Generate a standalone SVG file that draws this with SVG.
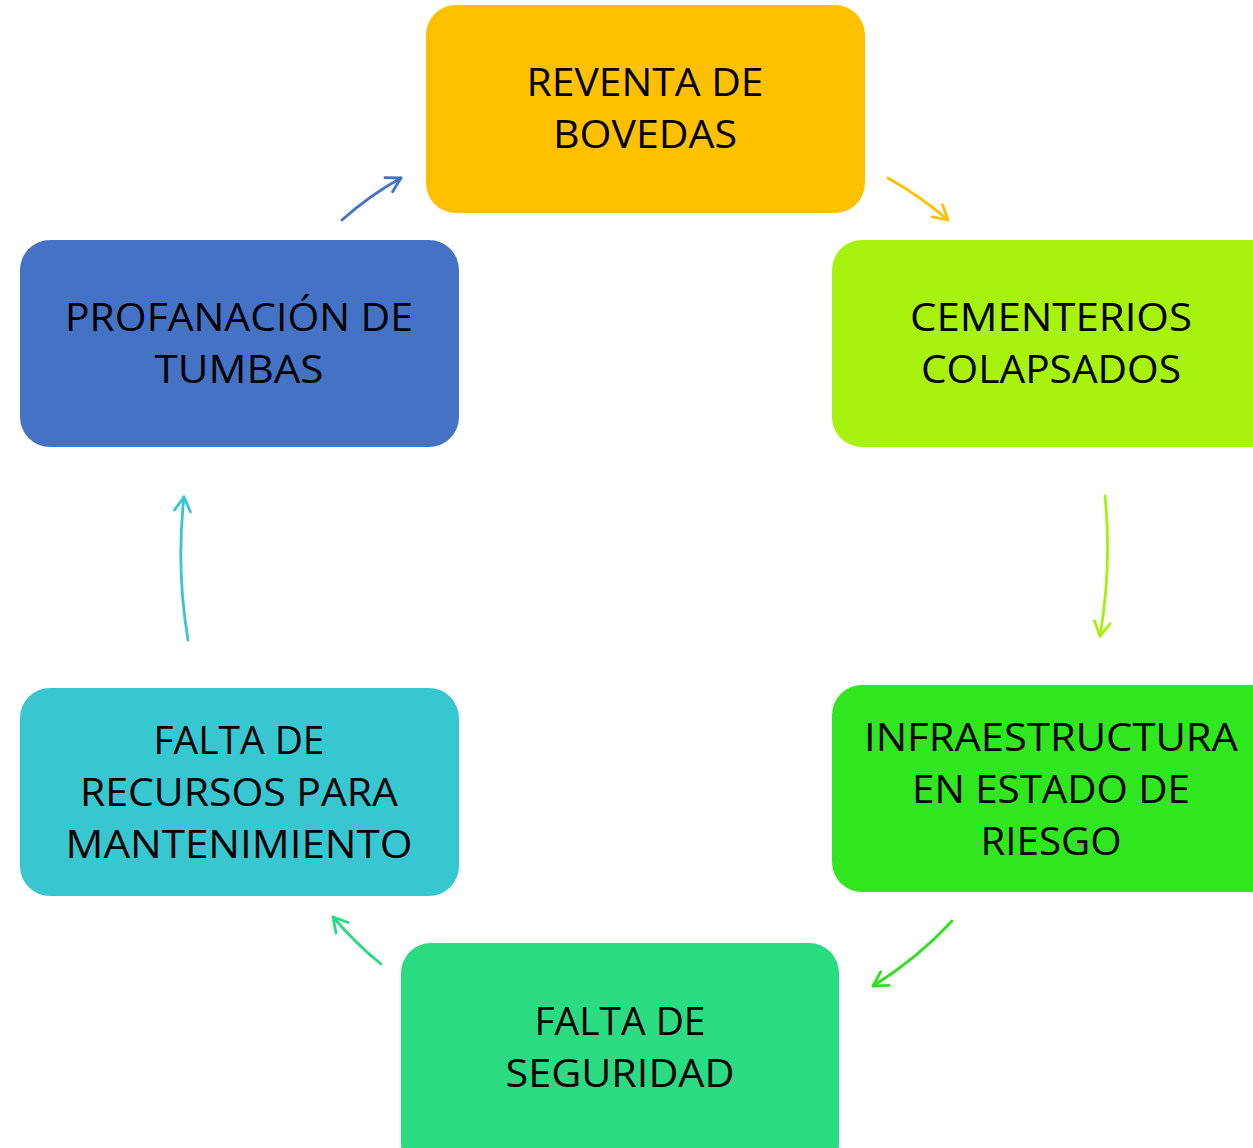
<svg xmlns="http://www.w3.org/2000/svg" width="1253" height="1148" viewBox="0 0 1253 1148">
<style>
.t{font-family:"Open Sans","Noto Sans","Liberation Sans",sans-serif;font-size:39px;fill:#000;text-anchor:middle}
.c{fill:none;stroke-width:2.8;stroke-linecap:round}
</style>
<defs>
<marker id="m1" markerUnits="userSpaceOnUse" markerWidth="30" markerHeight="30" viewBox="-20 -15 30 30" refX="0" refY="0" orient="auto"><path d="M-14,-8 L0,0 L-14,8" fill="none" stroke="#4472C4" stroke-width="2.8" stroke-linecap="round" stroke-linejoin="round"/></marker>
<marker id="m2" markerUnits="userSpaceOnUse" markerWidth="30" markerHeight="30" viewBox="-20 -15 30 30" refX="0" refY="0" orient="auto"><path d="M-14,-8 L0,0 L-14,8" fill="none" stroke="#FFC000" stroke-width="2.8" stroke-linecap="round" stroke-linejoin="round"/></marker>
<marker id="m3" markerUnits="userSpaceOnUse" markerWidth="30" markerHeight="30" viewBox="-20 -15 30 30" refX="0" refY="0" orient="auto"><path d="M-14,-8 L0,0 L-14,8" fill="none" stroke="#A5F20F" stroke-width="2.8" stroke-linecap="round" stroke-linejoin="round"/></marker>
<marker id="m4" markerUnits="userSpaceOnUse" markerWidth="30" markerHeight="30" viewBox="-20 -15 30 30" refX="0" refY="0" orient="auto"><path d="M-14,-8 L0,0 L-14,8" fill="none" stroke="#30E020" stroke-width="2.8" stroke-linecap="round" stroke-linejoin="round"/></marker>
<marker id="m5" markerUnits="userSpaceOnUse" markerWidth="30" markerHeight="30" viewBox="-20 -15 30 30" refX="0" refY="0" orient="auto"><path d="M-14,-8 L0,0 L-14,8" fill="none" stroke="#2ADB82" stroke-width="2.8" stroke-linecap="round" stroke-linejoin="round"/></marker>
<marker id="m6" markerUnits="userSpaceOnUse" markerWidth="30" markerHeight="30" viewBox="-20 -15 30 30" refX="0" refY="0" orient="auto"><path d="M-14,-8 L0,0 L-14,8" fill="none" stroke="#38C6D0" stroke-width="2.8" stroke-linecap="round" stroke-linejoin="round"/></marker>
</defs>
<rect width="1253" height="1148" fill="#fff"/>
<g id="connectors">
<path class="c" stroke="#4472C4" d="M342,220 Q370,195 401,178" marker-end="url(#m1)"/>
<path class="c" stroke="#FFC000" d="M888,178 Q920,196 948,220" marker-end="url(#m2)"/>
<path class="c" stroke="#A5F20F" d="M1105,496 Q1112,566 1100,636" marker-end="url(#m3)"/>
<path class="c" stroke="#30E020" d="M952,921 Q918,958 873,986" marker-end="url(#m4)"/>
<path class="c" stroke="#2ADB82" d="M381,964 Q356,944 333,917" marker-end="url(#m5)"/>
<path class="c" stroke="#38C6D0" d="M188,640 Q176,568 184,497" marker-end="url(#m6)"/>
</g>
<g id="n1">
<rect x="426" y="5" width="439" height="208" rx="30" fill="#FFC000"/>
<text class="t" x="645" y="96" textLength="237" lengthAdjust="spacingAndGlyphs">REVENTA DE</text>
<text class="t" x="645" y="148" textLength="184" lengthAdjust="spacingAndGlyphs">BOVEDAS</text>
</g>
<g id="n2">
<rect x="832" y="240" width="450" height="207" rx="30" fill="#A8F20F"/>
<text class="t" x="1051" y="331" textLength="282" lengthAdjust="spacingAndGlyphs">CEMENTERIOS</text>
<text class="t" x="1051" y="383" textLength="260" lengthAdjust="spacingAndGlyphs">COLAPSADOS</text>
</g>
<g id="n3">
<rect x="832" y="685" width="450" height="207" rx="30" fill="#2FE61F"/>
<text class="t" x="1051" y="751" textLength="374" lengthAdjust="spacingAndGlyphs">INFRAESTRUCTURA</text>
<text class="t" x="1051" y="803" textLength="278" lengthAdjust="spacingAndGlyphs">EN ESTADO DE</text>
<text class="t" x="1051" y="855" textLength="141" lengthAdjust="spacingAndGlyphs">RIESGO</text>
</g>
<g id="n4">
<rect x="401" y="943" width="438" height="230" rx="30" fill="#2ADB82"/>
<text class="t" x="620" y="1035" textLength="171" lengthAdjust="spacingAndGlyphs">FALTA DE</text>
<text class="t" x="620" y="1087" textLength="229" lengthAdjust="spacingAndGlyphs">SEGURIDAD</text>
</g>
<g id="n5">
<rect x="20" y="688" width="439" height="208" rx="30" fill="#38C6D0"/>
<text class="t" x="239" y="754" textLength="171" lengthAdjust="spacingAndGlyphs">FALTA DE</text>
<text class="t" x="239" y="806" textLength="318" lengthAdjust="spacingAndGlyphs">RECURSOS PARA</text>
<text class="t" x="239" y="858" textLength="347" lengthAdjust="spacingAndGlyphs">MANTENIMIENTO</text>
</g>
<g id="n6">
<rect x="20" y="240" width="439" height="207" rx="30" fill="#4472C4"/>
<text class="t" x="239" y="331" textLength="348" lengthAdjust="spacingAndGlyphs">PROFANACIÓN DE</text>
<text class="t" x="239" y="383" textLength="169" lengthAdjust="spacingAndGlyphs">TUMBAS</text>
</g>
</svg>
